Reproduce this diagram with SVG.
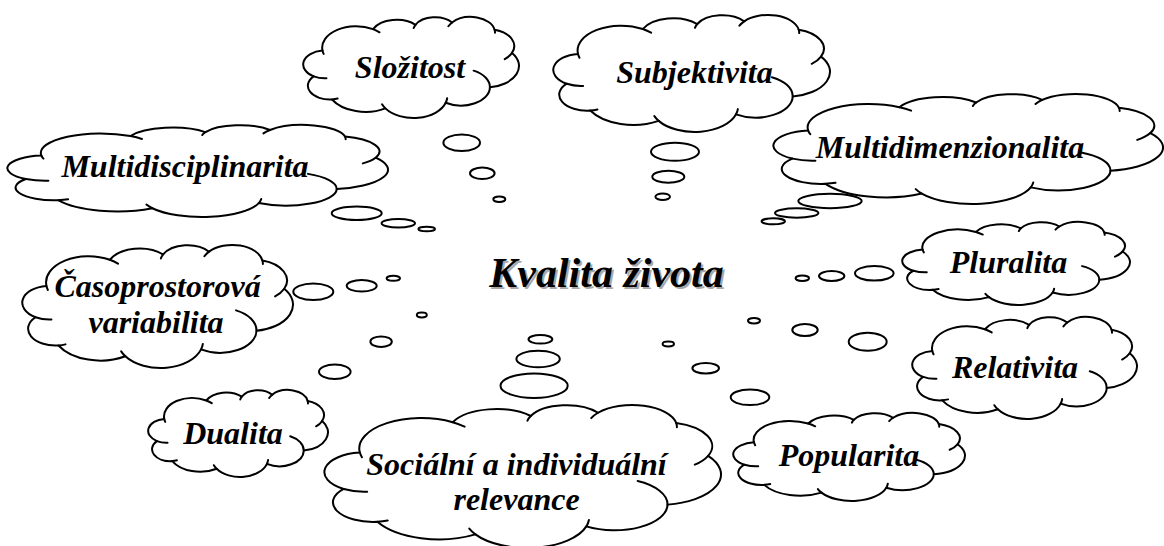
<svg xmlns="http://www.w3.org/2000/svg" xmlns:xlink="http://www.w3.org/1999/xlink" width="1164" height="546" viewBox="0 0 1164 546">
<style>
.cl{fill:#fff;stroke:#000;stroke-width:2;vector-effect:non-scaling-stroke;stroke-linejoin:round}
.ci{fill:none;stroke:#000;stroke-width:2;vector-effect:non-scaling-stroke;stroke-linecap:round}
.b{fill:#fff;stroke:#000;stroke-width:2}
.t{font-family:"Liberation Serif","Times New Roman",serif;font-weight:bold;font-style:italic;font-size:32px;fill:#000;text-anchor:middle}
.m{font-family:"Liberation Serif","Times New Roman",serif;font-weight:bold;font-style:italic;font-size:42px;text-anchor:middle}
</style>
<defs>
<symbol id="cloud" viewBox="0 0 43200 43200" preserveAspectRatio="none" overflow="visible">
<path class="cl" d="M3900,14370 A6753,9190 0 0 1 14000,5192 A5333,7267 0 0 1 22500,3330 A4365,5945 0 0 1 29820,2340 A4857,6595 0 0 1 38324,5426 A5333,7273 0 0 1 41798,15354 A6775,9220 0 0 1 37384,30097 A5785,7867 0 0 1 28545,36673 A6752,9215 0 0 1 16478,39090 A7720,10543 0 0 1 5811,35288 A4360,5918 0 0 1 2144,25369 A4345,5945 0 0 1 3900,14370 Z"/>
<path class="ci" d="M4693,26177 A4345,5945 0 0 1 2160,25380 M6928,34899 A4360,5918 0 0 1 5820,35280 M16478,39090 A6752,9215 0 0 1 15810,37350 M28827,34751 A6752,9215 0 0 1 28550,36668 M34129,22954 A5785,7867 0 0 1 37384,30097 M41798,15354 A5333,7273 0 0 1 40350,18030 M38324,5426 A4857,6595 0 0 1 38400,6690 M29078,3952 A4857,6595 0 0 1 29820,2340 M22141,4720 A4365,5945 0 0 1 22500,3330 M14000,5192 A6753,9190 0 0 1 15300,6540 M4127,15789 A6753,9190 0 0 1 3900,14370"/>
</symbol>
</defs>
<rect width="1164" height="546" fill="#fff"/>
<g id="slozitost">
<use href="#cloud" x="303" y="17" width="216" height="101"/>
<ellipse class="b" cx="461.7" cy="142.7" rx="18.3" ry="8.3"/>
<ellipse class="b" cx="482.3" cy="173.3" rx="12.3" ry="5.7"/>
<ellipse class="b" cx="499.3" cy="199.3" rx="6" ry="2.7"/>
<text class="t" x="410" y="78">Složitost</text>
</g>
<g id="subjektivita">
<use href="#cloud" x="553" y="15" width="277" height="117"/>
<ellipse class="b" cx="675" cy="151.7" rx="24" ry="9"/>
<ellipse class="b" cx="668.3" cy="176.7" rx="16" ry="6"/>
<ellipse class="b" cx="662.7" cy="196.7" rx="7.3" ry="3.3"/>
<text class="t" x="694.5" y="83">Subjektivita</text>
</g>
<g id="multidimenzionalita">
<use href="#cloud" x="773" y="94" width="390" height="110"/>
<ellipse class="b" cx="830" cy="201" rx="31.7" ry="7.2"/>
<ellipse class="b" cx="796.7" cy="213" rx="21.7" ry="4.7"/>
<ellipse class="b" cx="773.3" cy="221.3" rx="11.7" ry="3"/>
<text class="t" x="950" y="158">Multidimenzionalita</text>
</g>
<g id="multidisciplinarita">
<use href="#cloud" x="7" y="125" width="381" height="92"/>
<ellipse class="b" cx="356.7" cy="213.3" rx="25" ry="6.7"/>
<ellipse class="b" cx="398.3" cy="223.3" rx="16.7" ry="4.3"/>
<ellipse class="b" cx="426.7" cy="229" rx="8.3" ry="2.3"/>
<text class="t" x="185" y="177">Multidisciplinarita</text>
</g>
<g id="casoprostorova">
<use href="#cloud" x="22" y="245" width="271" height="123"/>
<ellipse class="b" cx="313.3" cy="291.7" rx="20" ry="8.3"/>
<ellipse class="b" cx="361.7" cy="285.8" rx="15" ry="5.8"/>
<ellipse class="b" cx="393.3" cy="278.3" rx="6.7" ry="2.5"/>
<text class="t" x="157.5" y="297">Časoprostorová</text>
<text class="t" x="156" y="333">variabilita</text>
</g>
<g id="dualita">
<use href="#cloud" x="148" y="390" width="180" height="87"/>
<ellipse class="b" cx="421.8" cy="315" rx="5" ry="2.4"/>
<ellipse class="b" cx="381.1" cy="341.7" rx="10.7" ry="5.3"/>
<ellipse class="b" cx="334.8" cy="371.7" rx="15.8" ry="7.3"/>
<text class="t" x="233" y="444">Dualita</text>
</g>
<g id="socialni">
<use href="#cloud" x="324" y="405" width="397" height="143"/>
<ellipse class="b" cx="534.1" cy="385.7" rx="33.6" ry="12.3"/>
<ellipse class="b" cx="538.1" cy="359" rx="21.7" ry="8.3"/>
<ellipse class="b" cx="540.4" cy="339.3" rx="11.9" ry="4.3"/>
<text class="t" x="516.5" y="475">Sociální a individuální</text>
<text class="t" x="516.5" y="510">relevance</text>
</g>
<g id="popularita">
<use href="#cloud" x="733" y="413" width="232" height="88"/>
<ellipse class="b" cx="668.3" cy="344" rx="5.7" ry="2.4"/>
<ellipse class="b" cx="705.7" cy="368.3" rx="13.3" ry="5.3"/>
<ellipse class="b" cx="750" cy="397.3" rx="19.3" ry="7.8"/>
<text class="t" x="849" y="466">Popularita</text>
</g>
<g id="relativita">
<use href="#cloud" x="912" y="317" width="225" height="102"/>
<ellipse class="b" cx="754" cy="320.7" rx="6" ry="2.7"/>
<ellipse class="b" cx="805" cy="330" rx="12.7" ry="6"/>
<ellipse class="b" cx="867.7" cy="341.7" rx="19" ry="9"/>
<text class="t" x="1015" y="378">Relativita</text>
</g>
<g id="pluralita">
<use href="#cloud" x="902" y="222" width="228" height="83"/>
<ellipse class="b" cx="802.3" cy="278.3" rx="6.7" ry="2.7"/>
<ellipse class="b" cx="831.7" cy="276" rx="12.7" ry="5"/>
<ellipse class="b" cx="874.3" cy="273.3" rx="19.3" ry="7.3"/>
<text class="t" x="1008.5" y="273">Pluralita</text>
</g>
<g id="kvalita">
<text class="m" x="608.5" y="289" fill="#a8a8a8">Kvalita života</text>
<text class="m" x="606.5" y="287" fill="#000">Kvalita života</text>
</g>
<g id="connectors"></g>
</svg>
